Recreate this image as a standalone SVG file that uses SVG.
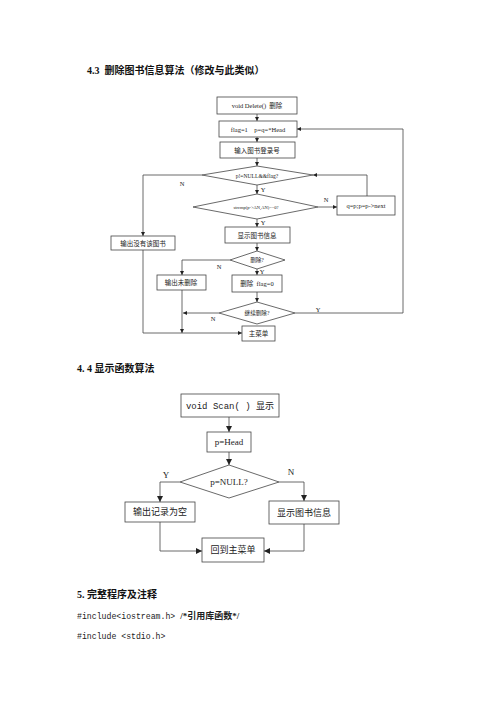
<svg xmlns="http://www.w3.org/2000/svg" width="500" height="708" viewBox="0 0 500 708">
<defs>
<marker id="ah" markerWidth="4" markerHeight="4" refX="4" refY="2" orient="auto" markerUnits="userSpaceOnUse"><path d="M0,0 L4,2 L0,4 z" fill="#222"/></marker>
<marker id="ah2" markerWidth="6" markerHeight="6" refX="6" refY="3" orient="auto" markerUnits="userSpaceOnUse"><path d="M0,0 L6,3 L0,6 z" fill="#222"/></marker>
</defs>
<style>
.b{fill:#fff;stroke:#444;stroke-width:0.8}
.c{fill:none;stroke:#444;stroke-width:0.8}
.t{font-family:"Liberation Serif","Noto Sans CJK SC",serif;fill:#222;text-anchor:middle}
.s{font-size:6.5px}
.xs{font-size:5.6px}
.m{font-size:9px}
.mono{font-family:"Liberation Mono","Noto Sans CJK SC",monospace;fill:#222}
.h{font-family:"Liberation Serif","Noto Sans CJK SC",serif;font-weight:bold;fill:#111}
</style>
<rect width="500" height="708" fill="#fff"/>
<text class="h" x="87" y="74" font-size="10" xml:space="preserve">4.3  删除图书信息算法（修改与此类似）</text>
<g id="connectors">
<path class="c" d="M257,114 V121" marker-end="url(#ah)"/>
<path class="c" d="M257,137 V142" marker-end="url(#ah)"/>
<path class="c" d="M257,158 V166" marker-end="url(#ah)"/>
<path class="c" d="M257,185 V194" marker-end="url(#ah)"/>
<path class="c" d="M318,207 H337" marker-end="url(#ah)"/>
<path class="c" d="M367,196 V175 H313" marker-end="url(#ah)"/>
<path class="c" d="M257,219 V227" marker-end="url(#ah)"/>
<path class="c" d="M257,243 V251" marker-end="url(#ah)"/>
<path class="c" d="M230,260 H182 V275" marker-end="url(#ah)"/>
<path class="c" d="M257,269 V275" marker-end="url(#ah)"/>
<path class="c" d="M257,292 V302" marker-end="url(#ah)"/>
<path class="c" d="M219,313 H183" marker-end="url(#ah)"/>
<path class="c" d="M295,313 H403 V129 H297" marker-end="url(#ah)"/>
<path class="c" d="M202,175 H143 V236" marker-end="url(#ah)"/>
<path class="c" d="M182,290 V333" marker-end="url(#ah)"/>
<path class="c" d="M143,250 V333 H242" marker-end="url(#ah)"/>
<path class="c" d="M229,417 V432" marker-end="url(#ah2)"/>
<path class="c" d="M229,452 V465" marker-end="url(#ah2)"/>
<path class="c" d="M180,482 H160 V502" marker-end="url(#ah2)"/>
<path class="c" d="M279,482 H304 V501" marker-end="url(#ah2)"/>
<path class="c" d="M160,522 V551 H202" marker-end="url(#ah2)"/>
<path class="c" d="M304,524 V551 H264" marker-end="url(#ah2)"/>
</g>
<g class="t s">
<text x="182" y="186">N</text>
<text x="263" y="192">Y</text>
<text x="326" y="202">N</text>
<text x="263" y="225">Y</text>
<text x="219" y="269">N</text>
<text x="262" y="274">Y</text>
<text x="213" y="321">N</text>
<text x="318" y="312">Y</text>
</g>
<g class="t m">
<text x="166" y="478">Y</text>
<text x="291" y="475">N</text>
</g>
<g id="n1"><rect class="b" x="217" y="97" width="80" height="17"/><text class="t s" x="257" y="108" xml:space="preserve">void Delete()  删除</text></g>
<g id="n2"><rect class="b" x="219" y="121" width="78" height="16"/><text class="t s" x="258" y="131.5" xml:space="preserve">flag=1    p=q=*Head</text></g>
<g id="n3"><rect class="b" x="220" y="142" width="75" height="16"/><text class="t s" x="257" y="152.5">输入图书登录号</text></g>
<g id="n4"><polygon class="b" points="257,166 313,175 257,185 202,175"/><text class="t xs" x="257" y="177.5">p!=NULL&amp;&amp;flag?</text></g>
<g id="n5"><polygon class="b" points="257,194 318,207 257,219 193,207"/><text class="t" font-size="4.5" x="256" y="208.5">strcmp(p-&gt;AN,AN)==0?</text></g>
<g id="n6"><rect class="b" x="337" y="196" width="58" height="19"/><text class="t s" x="366" y="208">q=p;p=p-&gt;next</text></g>
<g id="n7"><rect class="b" x="225" y="227" width="65" height="16"/><text class="t s" x="257" y="237.5">显示图书信息</text></g>
<g id="n8"><polygon class="b" points="257,251 285,260 257,269 230,260"/><text class="t xs" x="257" y="262">删除?</text></g>
<g id="n9"><rect class="b" x="157" y="275" width="49" height="15"/><text class="t s" x="181" y="285">输出未删除</text></g>
<g id="n10"><rect class="b" x="232" y="275" width="50" height="17"/><text class="t s" x="257" y="286" xml:space="preserve">删除  flag=0</text></g>
<g id="n11"><polygon class="b" points="257,302 295,313 257,324 219,313"/><text class="t xs" x="257" y="315">继续删除?</text></g>
<g id="n12"><rect class="b" x="111" y="236" width="64" height="14"/><text class="t s" x="143" y="245.5">输出没有该图书</text></g>
<g id="n13"><rect class="b" x="242" y="326" width="33" height="15"/><text class="t s" x="258.5" y="336">主菜单</text></g>
<text class="h" x="77" y="372" font-size="10">4. 4 显示函数算法</text>
<g id="m1"><rect class="b" x="181" y="394" width="98" height="23"/><text class="mono" font-size="9" x="230" y="408.5" text-anchor="middle">void Scan( ) 显示</text></g>
<g id="m2"><rect class="b" x="207" y="432" width="44" height="20"/><text class="t m" x="229" y="445">p=Head</text></g>
<g id="m3"><polygon class="b" points="229,465 279,482 229,498 180,482"/><text class="t m" x="229" y="485">p=NULL?</text></g>
<g id="m4"><rect class="b" x="125" y="502" width="70" height="20"/><text class="t m" x="160" y="515">输出记录为空</text></g>
<g id="m5"><rect class="b" x="269" y="501" width="70" height="23"/><text class="t m" x="304" y="515.5">显示图书信息</text></g>
<g id="m6"><rect class="b" x="202" y="538" width="62" height="24"/><text class="t m" x="233" y="553">回到主菜单</text></g>
<text class="h" x="77" y="598" font-size="10">5. 完整程序及注释</text>
<text class="mono" x="77" y="619" font-size="8.2">#include&lt;iostream.h&gt; <tspan font-weight="bold" font-family="Liberation Serif,Noto Sans CJK SC,serif" font-size="9">/*引用库函数*/</tspan></text>
<text class="mono" x="77" y="639" font-size="8.2">#include &lt;stdio.h&gt;</text>
</svg>
